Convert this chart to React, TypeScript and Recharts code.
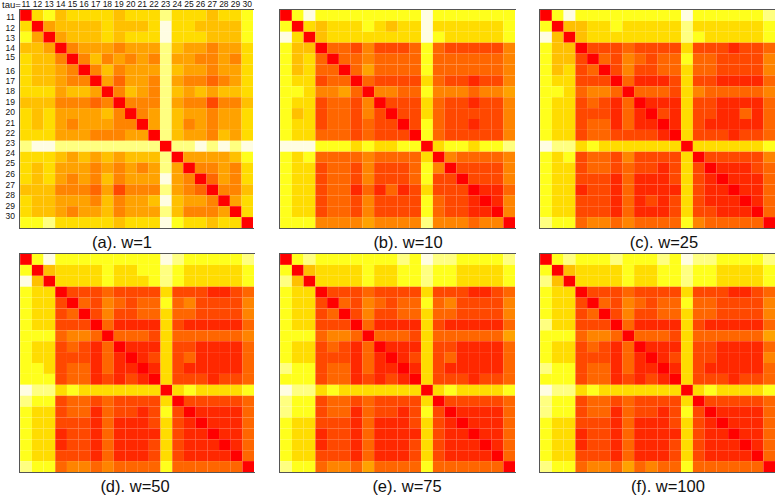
import { Bar, BarChart, XAxis, YAxis } from 'recharts';

const taus = [11, 12, 13, 14, 15, 16, 17, 18, 19, 20, 21, 22, 23, 24, 25, 26, 27, 28, 29, 30];

// where the printed row labels sit, in row units (the figure spaces them a bit tighter than the cells)
const rowLabelTicks = [0.67, 1.62, 2.6, 3.46, 4.28, 5.57, 6.51, 7.43, 8.41, 9.39, 10.33, 11.25, 12.23, 13.15, 14.07, 15.05, 16.06, 16.97, 17.95, 18.9];

// colour steps of the heat scale, pale (low) to red (high)
const heatColors = ['#fffde2', '#ffff80', '#ffff1c', '#ffdc00', '#ffc000', '#ffa200', '#ff8400', '#ff6600', '#ff4800', '#ff2800', '#ff0000'];

// one string per row (tau 11..30), one heat step per column, a = 10
const matrixA = [
  'a3243333433313334332',
  '3a544443444303344442',
  '25a54443433303334442',
  '445a6555655514556553',
  '3446a646565615566563',
  '34456a64655514556553',
  '344566a5755615667653',
  '3335445a645614545443',
  '44466676a66615668664',
  '343555546a6514556553',
  '3435655566a514656553',
  '33355566655a14556453',
  '100111111111a1101010',
  '3334545454441a555542',
  '34355565656515a66563',
  '343565646555056a7563',
  '4446667586661567a664',
  '34455564655404556a53',
  '344565546555146665a3',
  '2213333343330233433a',
];

const matrixB = [
  'a2022222222202222222',
  '2a343332343303333332',
  '03a43333333302333332',
  '244a7786888727888886',
  '2437a776777727777776',
  '24377a75777727777776',
  '233877a7888837889886',
  '2236657a667726667665',
  '23387786a88837889886',
  '243877868a8837888886',
  '2338778788a827889886',
  '23377787888a27888886',
  '000222323322a3223221',
  '2327777677773a677776',
  '23387786888726a88886',
  '233877868887288a8886',
  '2338779797983888a997',
  '23387786888827889a96',
  '233877868888278899a6',
  '2226666566661666766a',
];

const matrixC = [
  'a2022222222202222221',
  '2a443323333313333332',
  '04a43333333312333332',
  '244a8887888838889887',
  '2448a786787727788886',
  '24387a86887737788886',
  '233888a7999838899997',
  '2237667a777836777776',
  '23387897a99938899997',
  '233888979a8938899797',
  '2338779799a938999997',
  '23387788889a38889887',
  '011323333333a3333332',
  '2328778688883a888886',
  '23387787889838a99987',
  '233888979998389a9997',
  '2339889799993899a997',
  '23388897989838999a97',
  '233888979998388999a7',
  '1227667677772677777a',
];

const matrixD = [
  'a2022222222201222221',
  '2a433332332212333332',
  '04a33332333212333332',
  '233a8887888838889987',
  '2338a786787727688886',
  '23387a86887737788886',
  '233888a7999938999997',
  '2227667a777837777776',
  '23387897a99938899997',
  '233888979a9838799997',
  '2238779799a938999997',
  '22287798989a38889887',
  '011323333333a3233332',
  '1228778788883a888887',
  '23387797889828a99997',
  '233888979998389a9997',
  '2339889799993899a997',
  '23398897999838999a97',
  '233888979998389999a7',
  '1227667677772777777a',
];

const matrixE = [
  'a2122222221201122221',
  '2a433332332212233332',
  '14a33332332212233332',
  '233a8887888838889987',
  '2338a786787727688886',
  '23387a86887737788886',
  '233888a7999938999997',
  '2227667a777837777775',
  '23387897a99938899997',
  '233888979a9838799997',
  '1228779799a938999997',
  '22287798989a38889887',
  '011323333333a3233332',
  '1228778788883a888887',
  '12287797889828a99997',
  '233888979998389a9997',
  '2339889799993899a997',
  '23398897999838999a97',
  '233888979998389999a7',
  '1227667577772777777a',
];

const matrixF = [
  'a2122212221201122221',
  '2a433332332212233332',
  '14a33332332212233332',
  '233a8887888838889987',
  '2338a786787727788886',
  '23387a86887737788886',
  '133888a7999938999997',
  '2227667a777837777775',
  '23387897a99938899997',
  '233888979a9838899996',
  '1228779799a938999997',
  '22287798989a38889887',
  '011323333333a3233332',
  '1228778788883a888887',
  '12287797889828a99997',
  '233888979998389a9997',
  '2339889799993899a997',
  '23398897999838999a97',
  '233888979998389999a7',
  '1227667576772777777a',
];

const panels = [
  { caption: '(a). w=1', rows: matrixA, x: 20, y: 10, w: 233, h: 218, captionX: 122, captionY: 234, labels: true },
  { caption: '(b). w=10', rows: matrixB, x: 280, y: 10, w: 235, h: 218, captionX: 408, captionY: 234, labels: false },
  { caption: '(c). w=25', rows: matrixC, x: 540, y: 10, w: 235, h: 218, captionX: 664, captionY: 234, labels: false },
  { caption: '(d). w=50', rows: matrixD, x: 20, y: 254, w: 234, h: 218, captionX: 135, captionY: 478, labels: false },
  { caption: '(e). w=75', rows: matrixE, x: 280, y: 254, w: 235, h: 218, captionX: 407, captionY: 478, labels: false },
  { caption: '(f). w=100', rows: matrixF, x: 540, y: 254, w: 235, h: 218, captionX: 668, captionY: 478, labels: false },
];

const FONT = '"Liberation Sans", Arial, sans-serif';
const LEFT = 20;
const TOP = 10;
const BORDER = '#555';
const TICK_STYLE = { fontSize: 8.5, fill: '#111' };

function Heatmap({ panel }: { panel: (typeof panels)[number] }) {
  const data = taus.map((tau) => {
    const row: Record<string, number> = { tau };
    taus.forEach((t) => {
      row[`r${t}`] = 1;
    });
    return row;
  });
  const band = panel.w / 20;

  return (
    <div style={{ position: 'absolute', left: panel.x - LEFT, top: panel.y - TOP }}>
      <BarChart
        width={panel.w + LEFT}
        height={panel.h + TOP}
        data={data}
        barCategoryGap={0}
        barGap={0}
        margin={{ top: 0, right: 0, bottom: 0, left: 0 }}
        style={{ fontFamily: FONT }}
      >
        <XAxis
          orientation="top"
          dataKey="tau"
          height={TOP}
          interval={0}
          tickLine={false}
          tickSize={0}
          tickMargin={3}
          axisLine={false}
          tick={panel.labels ? TICK_STYLE : false}
        />
        <YAxis
          reversed
          type="number"
          width={LEFT}
          domain={[0, 20]}
          ticks={rowLabelTicks}
          tickFormatter={(_v: number, i: number) => String(taus[i])}
          interval={0}
          tickLine={false}
          tickSize={0}
          tickMargin={5}
          axisLine={false}
          tick={panel.labels ? TICK_STYLE : false}
        />
        {taus.map((t, r) => (
          <Bar
            key={t}
            dataKey={`r${t}`}
            stackId="cells"
            isAnimationActive={false}
            shape={(p: any) => (
              // recharts floors the bar width and the reversed axis gives a negative height
              <rect
                x={p.x + p.width / 2 - band / 2}
                y={Math.min(p.y, p.y + p.height)}
                width={band}
                height={Math.abs(p.height)}
                fill={heatColors[parseInt(panel.rows[r][p.index], 16)]}
              />
            )}
          />
        ))}
      </BarChart>
      <div
        style={{
          position: 'absolute',
          left: LEFT - 1,
          top: TOP - 1,
          width: panel.w + 1,
          height: panel.h,
          borderTop: `1px solid ${BORDER}`,
          borderLeft: `1px solid ${BORDER}`,
          borderBottom: `1px solid ${BORDER}`,
          pointerEvents: 'none',
        }}
      />
    </div>
  );
}

export default function App() {
  return (
    <div style={{ position: 'absolute', left: 0, top: 0, width: 775, height: 495, overflow: 'hidden', background: '#fff', fontFamily: FONT }}>
      {panels.map((p) => (
        <Heatmap key={p.caption} panel={p} />
      ))}
      {panels.map((p) => (
        <div
          key={p.caption}
          style={{
            position: 'absolute',
            left: p.captionX - 60,
            width: 120,
            top: p.captionY,
            textAlign: 'center',
            fontSize: 16.5,
            lineHeight: '16px',
            color: '#111',
          }}
        >
          {p.caption}
        </div>
      ))}
      <div style={{ position: 'absolute', left: 2, top: 0, fontSize: 9.5, lineHeight: '10px', color: '#111' }}>tau=</div>
    </div>
  );
}
